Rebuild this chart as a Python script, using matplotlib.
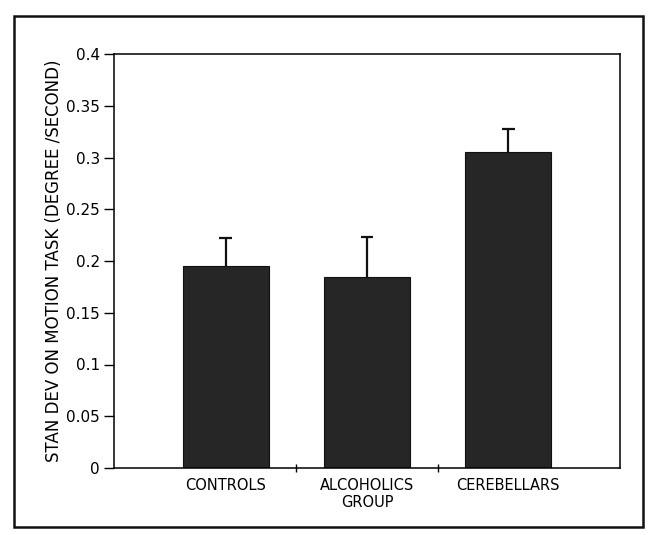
import numpy as np
import matplotlib
matplotlib.use('Agg')
import matplotlib.pyplot as plt
from matplotlib.patches import Rectangle

# values
groups = ['CONTROLS', 'ALCOHOLICS\nGROUP', 'CEREBELLARS']
stan_dev = [0.195, 0.185, 0.305]
err = [0.027, 0.038, 0.023]
yticks = [0, 0.05, 0.1, 0.15, 0.2, 0.25, 0.3, 0.35, 0.4]
ytick_labels = ['0', '0.05', '0.1', '0.15', '0.2', '0.25', '0.3', '0.35', '0.4']

plt.rcParams['font.family'] = ['DejaVu Sans']
fig = plt.figure(figsize=(6.49, 5.35), dpi=100)
ax = fig.add_axes([114/649, 1-468/535, (620-114)/649, (468-54)/535])

x = np.arange(len(groups))
tops = np.array(stan_dev) + np.array(err)
ax.bar(x, stan_dev, width=0.61, color='#262626', edgecolor='#111111', lw=0.8, zorder=2)
# upper error bars only, no cap at the bar end
ax.vlines(x, stan_dev, tops, colors='#111111', lw=1.6, zorder=1)
ax.hlines(tops, x-0.045, x+0.045, colors='#111111', lw=1.6, zorder=1)

ax.set_xlim(-0.79, 2.79)
ax.set_ylim(0, 0.4)
ax.set_yticks(yticks)
ax.set_yticklabels(ytick_labels, fontsize=11)
ax.set_xticks([0.5, 1.5])
ax.set_xticklabels([])
ax.set_xticks(x, minor=True)
ax.set_xticklabels(groups, minor=True, fontsize=10.5)
ax.tick_params(axis='x', which='minor', length=0, pad=7)
ax.tick_params(axis='x', which='major', direction='inout', length=6, width=1)
ax.tick_params(axis='y', direction='out', length=7, width=1, pad=3)
for s in ax.spines.values():
  s.set_linewidth(1.1)
ax.set_ylabel('STAN DEV ON MOTION TASK (DEGREE /SECOND)', fontsize=12, labelpad=2)

# border of the scanned page
fig.patches.append(Rectangle((14/649, 8/535), (643-14)/649, (523-12)/535, transform=fig.transFigure,
                             fill=False, lw=1.8, edgecolor='#111111'))

fig.savefig('out.png', dpi=100)
